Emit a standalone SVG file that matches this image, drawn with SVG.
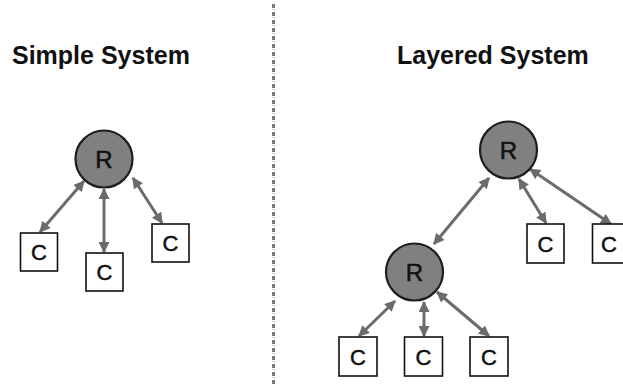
<svg xmlns="http://www.w3.org/2000/svg" width="623" height="385" viewBox="0 0 623 385">
<style>
.title{font-family:"Liberation Sans",Arial,sans-serif;font-weight:bold;font-size:25px;fill:#111}
.r circle{fill:#808080;stroke:#1e1e1e;stroke-width:2.2}
.r text{font-family:"Liberation Sans",Arial,sans-serif;font-size:24px;fill:#111;stroke:#111;stroke-width:0.5;text-anchor:middle}
.c rect{fill:#fff;stroke:#111;stroke-width:1.6}
.c text{font-family:"Liberation Sans",Arial,sans-serif;font-size:22px;fill:#111;stroke:#111;stroke-width:0.5;text-anchor:middle}
.edge{stroke:#6b6b6b;stroke-width:3;fill:none;marker-start:url(#ah);marker-end:url(#ah)}
</style>
<defs>
<marker id="ah" viewBox="0 0 10 10" refX="9" refY="5" markerWidth="12" markerHeight="11" markerUnits="userSpaceOnUse" orient="auto-start-reverse">
<path d="M0,0 L10,5 L0,10 z" fill="#6b6b6b"/>
</marker>
</defs>
<rect width="623" height="385" fill="#fff"/>
<g id="separator">
<line x1="273.5" y1="4" x2="273.5" y2="385" stroke="#7a7a7a" stroke-width="3" stroke-dasharray="4 4"/>
<line x1="273.5" y1="9" x2="273.5" y2="385" stroke="#c8c8c8" stroke-width="3" stroke-dasharray="1 7"/>
</g>
<text class="title" x="12" y="64">Simple System</text>
<text class="title" x="397" y="64">Layered System</text>
<g id="connectors">
<line class="edge" x1="84" y1="181" x2="40" y2="232"/>
<line class="edge" x1="104" y1="189" x2="104" y2="252"/>
<line class="edge" x1="133" y1="178" x2="162" y2="223"/>
<line class="edge" x1="489" y1="178" x2="434" y2="244"/>
<line class="edge" x1="519" y1="179" x2="546" y2="223"/>
<line class="edge" x1="530" y1="169" x2="611" y2="224"/>
<line class="edge" x1="395" y1="301" x2="359" y2="336"/>
<line class="edge" x1="424" y1="302" x2="424" y2="336"/>
<line class="edge" x1="437" y1="292" x2="489" y2="336"/>
</g>
<g id="R1" class="r"><circle cx="104" cy="159" r="28.5"/><text x="104" y="167.5">R</text></g>
<g id="C1" class="c"><rect x="20.5" y="233" width="37" height="38"/><text x="39" y="260">C</text></g>
<g id="C2" class="c"><rect x="86" y="253" width="37" height="38"/><text x="104.5" y="280">C</text></g>
<g id="C3" class="c"><rect x="152" y="224" width="37" height="38"/><text x="170.5" y="251">C</text></g>
<g id="R2" class="r"><circle cx="508.5" cy="150" r="28.5"/><text x="508.5" y="158.5">R</text></g>
<g id="R3" class="r"><circle cx="414.5" cy="272" r="28.5"/><text x="414.5" y="280.5">R</text></g>
<g id="C4" class="c"><rect x="527" y="224" width="37" height="39"/><text x="545.5" y="252">C</text></g>
<g id="C5" class="c"><rect x="592.5" y="224" width="37" height="39"/><text x="609" y="252">C</text></g>
<g id="C6" class="c"><rect x="339" y="337" width="38" height="39"/><text x="358" y="365">C</text></g>
<g id="C7" class="c"><rect x="404.5" y="337" width="38" height="39"/><text x="423.5" y="365">C</text></g>
<g id="C8" class="c"><rect x="470" y="337" width="38" height="39"/><text x="489" y="365">C</text></g>
</svg>
